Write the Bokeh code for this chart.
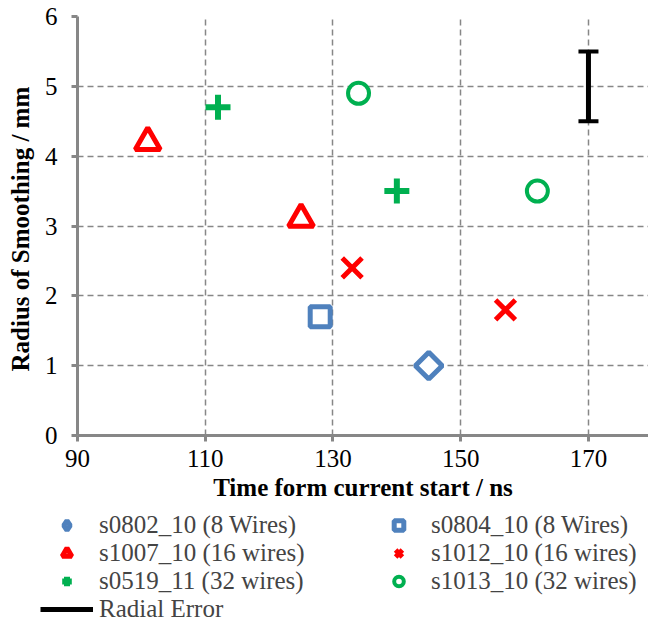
import math
from bokeh.plotting import figure
from bokeh.layouts import column, row
from bokeh.models import Legend, LegendItem, Range1d, FixedTicker
from bokeh.embed import file_html
from bokeh.resources import INLINE

# ---- data ----
s0802_x = [145]; s0802_y = [1.0]
s0804_x = [128]; s0804_y = [1.7]
s1007_x = [101, 125]; s1007_y = [4.2, 3.1]
s1012_x = [133, 157]; s1012_y = [2.4, 1.8]
s0519_x = [112, 140]; s0519_y = [4.7, 3.5]
s1013_x = [134, 162]; s1013_y = [4.9, 3.5]
err_x = [170]; err_y = [5.0]; err_half = [0.5]
x_ticks = [90, 110, 130, 150, 170]
y_ticks = [0, 1, 2, 3, 4, 5, 6]
labels = ["s0802_10 (8 Wires)", "s0804_10 (8 Wires)", "s1007_10 (16 wires)",
          "s1012_10 (16 wires)", "s0519_11 (32 wires)", "s1013_10 (32 wires)",
          "Radial Error"]

BLUE = "#4F81BD"; RED = "#FF0000"; GREEN = "#00B050"
FONT = "Liberation Serif"
GRAY = "#878787"

styles = [
    dict(marker="square", angle=math.pi / 4, size=19, line_color=BLUE, line_width=5, fill_color="white"),
    dict(marker="square", size=20, line_color=BLUE, line_width=5, fill_color="white"),
    dict(marker="triangle", size=25, line_color=RED, line_width=5, fill_color="white"),
    dict(marker="x", size=28, line_color=RED, line_width=5),
    dict(marker="cross", size=25, line_color=GREEN, line_width=6),
    dict(marker="circle", size=21, line_color=GREEN, line_width=4, fill_color="white"),
]
series = [(s0802_x, s0802_y), (s0804_x, s0804_y), (s1007_x, s1007_y),
          (s1012_x, s1012_y), (s0519_x, s0519_y), (s1013_x, s1013_y)]

p = figure(width=648, height=505, output_backend="svg", toolbar_location=None,
           x_range=Range1d(90, 179.4), y_range=Range1d(0, 6),
           min_border_left=77, min_border_top=16, min_border_right=0, min_border_bottom=70)
p.outline_line_color = None

for ax in (p.xaxis, p.yaxis):
    ax.axis_line_color = GRAY
    ax.axis_line_width = 3
    ax.major_tick_line_color = GRAY
    ax.major_tick_line_width = 3
    ax.major_tick_out = 6
    ax.major_tick_in = 0
    ax.minor_tick_line_color = None
    ax.major_label_text_font = FONT
    ax.major_label_text_font_size = "25px"
    ax.major_label_text_color = "black"
    ax.axis_label_text_font = FONT
    ax.axis_label_text_font_size = "25px"
    ax.axis_label_text_font_style = "bold"
    ax.axis_label_text_color = "black"
p.xaxis.ticker = FixedTicker(ticks=x_ticks)
p.yaxis.ticker = FixedTicker(ticks=y_ticks)
p.xaxis.axis_label = "Time form current start / ns"
p.yaxis.axis_label = "Radius of  Smoothing / mm"
p.xaxis.major_label_standoff = 8
p.xaxis.axis_label_standoff = 4
p.yaxis.major_label_standoff = 14
p.yaxis.axis_label_standoff = 8

for g in (p.xgrid, p.ygrid):
    g.grid_line_color = GRAY
    g.grid_line_width = 1.5
    g.grid_line_dash = "6 4"

for (xs, ys), st in zip(series, styles):
    p.scatter(xs, ys, **st)

lo = [y - e for y, e in zip(err_y, err_half)]
hi = [y + e for y, e in zip(err_y, err_half)]
p.segment(x0=err_x, y0=lo, x1=err_x, y1=hi, line_color="black", line_width=5)
p.scatter(err_x + err_x, lo + hi, marker="dash", size=20, line_color="black", line_width=4)

# ---- legend panel (same series drawn outside its visible range; only the legend shows) ----
q = figure(width=648, height=118, output_backend="svg", toolbar_location=None,
           x_range=Range1d(0, 1), y_range=Range1d(0, 1),
           x_axis_location=None, y_axis_location=None,
           min_border=0, min_border_left=0, min_border_right=0,
           min_border_top=0, min_border_bottom=0)
q.outline_line_color = None
q.grid.visible = False
leg_styles = [dict(st) for st in styles]
leg_styles[0] = dict(marker="diamond", size=26, line_color=BLUE, line_width=5, fill_color="white")
leg_renderers = [q.scatter(xs, ys, **st) for (xs, ys), st in zip(series, leg_styles)]
leg_renderers.append(q.segment(x0=err_x, y0=lo, x1=err_x, y1=hi, line_color="black", line_width=5))

legend = Legend(items=[LegendItem(label=lab, renderers=[r]) for lab, r in zip(labels, leg_renderers)],
                orientation="horizontal", ncols=2)
legend.label_text_font = FONT
legend.label_text_font_size = "25px"
legend.label_height = 24
legend.label_width = 273
legend.glyph_height = 24
legend.glyph_width = 53
legend.spacing = -1
legend.label_standoff = 6
legend.padding = 2
legend.margin = 0
legend.border_line_color = None
legend.background_fill_alpha = 0
legend.location = (40, 0)
q.add_layout(legend, "center")

layout = column(p, row(q), spacing=0)
open("out.html", "w").write(file_html(layout, INLINE))
